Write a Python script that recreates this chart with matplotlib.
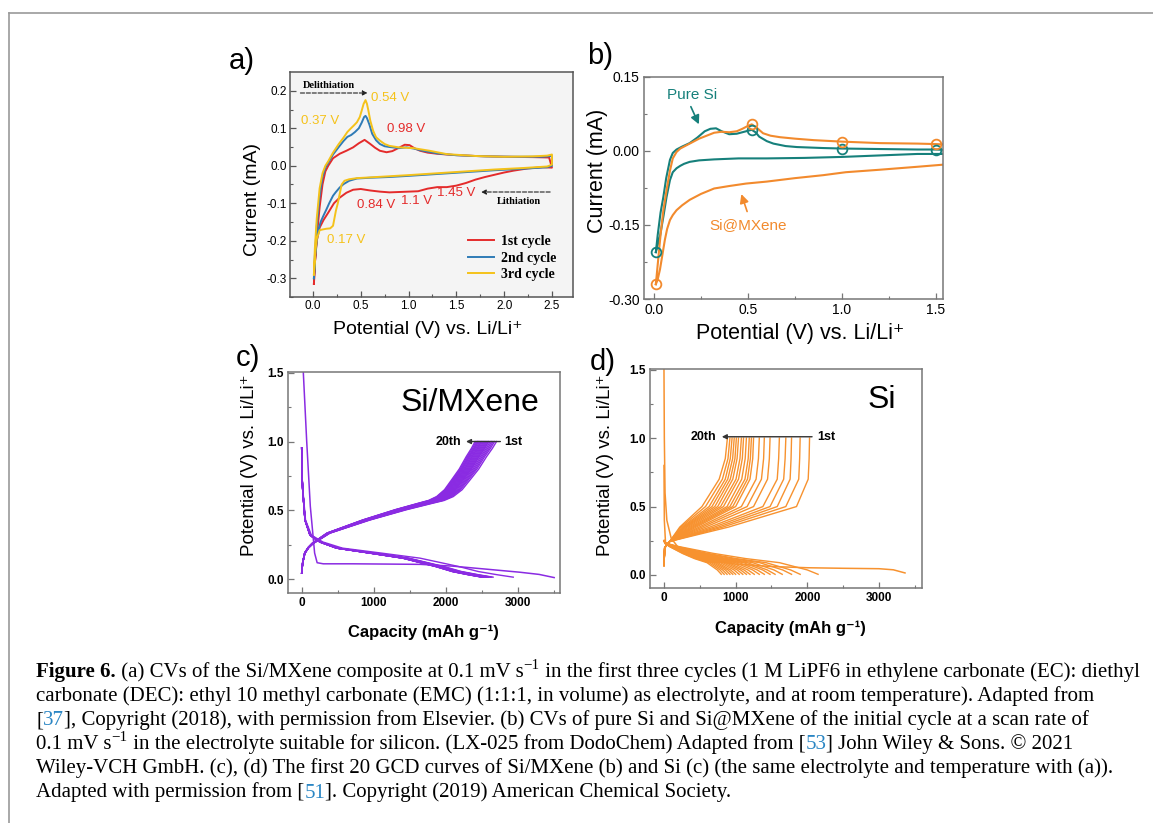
import numpy as np
import matplotlib
matplotlib.use('Agg')
import matplotlib.pyplot as plt
from matplotlib.lines import Line2D

W, H = 1153, 823
plt.rcParams['font.family'] = ['Liberation Sans', 'DejaVu Sans']
SERIF = ['Liberation Serif', 'DejaVu Serif']

# ---------------- panel a: CV of Si/MXene, three cycles ----------------
a_red_x = [0.01, 0.02, 0.04, 0.07, 0.1, 0.13, 0.16, 0.21, 0.28, 0.35, 0.42, 0.48, 0.54, 0.6, 0.65, 0.7,
           0.77, 0.83, 0.9, 0.96, 1.01, 1.06, 1.12, 1.2, 1.3, 1.45, 1.7, 2.0, 2.3, 2.47,
           2.5, 2.4, 2.25, 2.1, 2.0, 1.9, 1.8, 1.7, 1.6, 1.5, 1.4, 1.3, 1.2, 1.1, 1.0, 0.9, 0.8, 0.7,
           0.6, 0.5, 0.42, 0.35, 0.28, 0.22, 0.16, 0.11, 0.07, 0.04, 0.02, 0.01]
a_red_y = [-0.315, -0.26, -0.19, -0.11, -0.05, -0.015, 0.0, 0.02, 0.032, 0.04, 0.049, 0.06, 0.069, 0.058,
           0.048, 0.04, 0.036, 0.039, 0.048, 0.056, 0.055, 0.047, 0.04, 0.035, 0.032, 0.029, 0.026, 0.024,
           0.023, 0.022,
           -0.005, -0.004, -0.007, -0.013, -0.018, -0.024, -0.03, -0.037, -0.046, -0.053, -0.057, -0.057,
           -0.061, -0.068, -0.069, -0.07, -0.071, -0.069, -0.066, -0.062, -0.064, -0.072, -0.085, -0.1,
           -0.125, -0.145, -0.165, -0.2, -0.26, -0.315]

a_blue_x = [0.01, 0.02, 0.04, 0.07, 0.1, 0.13, 0.16, 0.21, 0.27, 0.32, 0.36, 0.4, 0.44, 0.48, 0.51, 0.535,
            0.55, 0.565, 0.59, 0.62, 0.66, 0.7, 0.75, 0.8, 0.9, 0.98, 1.05, 1.15, 1.3, 1.5, 1.8, 2.1, 2.4, 2.5,
            2.5, 2.45, 2.2, 1.9, 1.6, 1.3, 1.0, 0.8, 0.6, 0.46, 0.38, 0.32, 0.28, 0.24, 0.21, 0.17, 0.14,
            0.11, 0.08, 0.056, 0.04, 0.025, 0.01]
a_blue_y = [-0.30, -0.24, -0.16, -0.08, -0.03, -0.005, 0.008, 0.03, 0.05, 0.066, 0.077, 0.082, 0.09, 0.1,
            0.115, 0.13, 0.133, 0.127, 0.11, 0.085, 0.068, 0.058, 0.052, 0.05, 0.047, 0.049, 0.046, 0.04,
            0.033, 0.028, 0.025, 0.024, 0.024, 0.026,
            0.0, -0.004, -0.008, -0.012, -0.017, -0.022, -0.027, -0.03, -0.032, -0.034, -0.04, -0.049,
            -0.058, -0.07, -0.08, -0.1, -0.117, -0.133, -0.15, -0.173, -0.2, -0.24, -0.30]

a_yel_x = [0.01, 0.02, 0.04, 0.07, 0.1, 0.13, 0.16, 0.21, 0.27, 0.32, 0.36, 0.39, 0.43, 0.46, 0.49, 0.51,
           0.53, 0.55, 0.565, 0.58, 0.6, 0.63, 0.66, 0.7, 0.75, 0.8, 0.9, 1.05, 1.22, 1.4, 1.7, 2.0, 2.3,
           2.45, 2.5,
           2.5, 2.45, 2.2, 1.9, 1.6, 1.3, 1.0, 0.8, 0.6, 0.46, 0.38, 0.33, 0.3, 0.28, 0.26, 0.24, 0.21,
           0.18, 0.14, 0.1, 0.07, 0.04, 0.025, 0.01]
a_yel_y = [-0.29, -0.22, -0.14, -0.06, -0.02, 0.0, 0.012, 0.035, 0.058, 0.075, 0.09, 0.098, 0.108, 0.116,
           0.13, 0.147, 0.165, 0.175, 0.165, 0.147, 0.12, 0.093, 0.076, 0.067, 0.058, 0.053, 0.049, 0.047,
           0.04, 0.031, 0.026, 0.024, 0.025, 0.027, 0.03,
           0.003, -0.002, -0.006, -0.01, -0.015, -0.02, -0.025, -0.028, -0.031, -0.033, -0.036, -0.04,
           -0.05, -0.075, -0.1, -0.12, -0.16, -0.167, -0.168, -0.17, -0.172, -0.195, -0.23, -0.29]

a_labels = ['1st cycle', '2nd cycle', '3rd cycle']

# ---------------- panel b: CV of pure Si and Si@MXene ----------------
b_si_x = [0.01, 0.02, 0.035, 0.05, 0.065, 0.085, 0.1, 0.12, 0.15, 0.19, 0.23, 0.27, 0.3, 0.33, 0.36, 0.4,
          0.44, 0.48, 0.5, 0.52, 0.54, 0.56, 0.6, 0.635, 0.7, 0.76, 0.9, 1.0, 1.2, 1.4, 1.5, 1.56,
          1.56, 1.4, 1.2, 1.0, 0.8, 0.6, 0.45, 0.32, 0.24, 0.19, 0.16, 0.14, 0.12, 0.1, 0.085, 0.067,
          0.05, 0.032, 0.02, 0.01]
b_si_y = [-0.205, -0.17, -0.125, -0.093, -0.055, -0.018, -0.004, 0.003, 0.009, 0.016, 0.027, 0.04, 0.045,
          0.046, 0.04, 0.034, 0.035, 0.039, 0.041, 0.043, 0.038, 0.029, 0.02, 0.015, 0.01, 0.008, 0.006,
          0.005, 0.004, 0.003, 0.003, 0.002,
          -0.006, -0.006, -0.009, -0.012, -0.014, -0.015, -0.015, -0.017, -0.019, -0.022, -0.026, -0.03,
          -0.035, -0.043, -0.059, -0.093, -0.133, -0.173, -0.19, -0.205]
b_mx_x = [0.01, 0.02, 0.035, 0.05, 0.067, 0.085, 0.1, 0.12, 0.14, 0.17, 0.2, 0.24, 0.28, 0.32, 0.36, 0.4,
          0.44, 0.47, 0.5, 0.52, 0.55, 0.58, 0.62, 0.67, 0.75, 0.85, 1.0, 1.2, 1.4, 1.5, 1.56,
          1.56, 1.4, 1.2, 1.02, 0.9, 0.75, 0.6, 0.49, 0.4, 0.32, 0.25, 0.19, 0.15, 0.12, 0.1, 0.085, 0.07,
          0.058, 0.045, 0.032, 0.02, 0.01]
b_mx_y = [-0.27, -0.23, -0.17, -0.12, -0.079, -0.04, -0.015, -0.002, 0.005, 0.011, 0.017, 0.025, 0.031,
          0.037, 0.039, 0.038, 0.04, 0.045, 0.051, 0.054, 0.046, 0.036, 0.031, 0.028, 0.025, 0.022, 0.019,
          0.016, 0.015, 0.014, 0.013,
          -0.027, -0.032, -0.038, -0.043, -0.049, -0.055, -0.062, -0.066, -0.071, -0.076, -0.087, -0.099,
          -0.11, -0.12, -0.13, -0.14, -0.158, -0.18, -0.21, -0.24, -0.26, -0.27]
b_mark_x = [0.01, 0.52, 1.0, 1.5]
b_si_mark_y = [-0.205, 0.043, 0.005, 0.003]
b_mx_mark_y = [-0.27, 0.054, 0.019, 0.014]

# ---------------- panel c: GCD of Si/MXene, 20 cycles ----------------
c_dis1_q = [23, 70, 120, 180, 215, 300, 700, 1200, 1650, 2100, 2570, 3030, 3300, 3509]
c_dis1_v = [1.5, 1.0, 0.53, 0.19, 0.12, 0.112, 0.112, 0.11, 0.108, 0.095, 0.073, 0.051, 0.035, 0.012]
c_dis_q = [0, 5, 14, 46, 116, 255, 486, 949, 1412, 1875, 2106, 2338, 2523]
c_dis_v = [0.954, 0.75, 0.65, 0.43, 0.32, 0.27, 0.226, 0.19, 0.153, 0.092, 0.056, 0.032, 0.015]
c_dis_caps = [2940, 2660, 2640, 2620, 2600, 2590, 2580, 2570, 2560, 2550, 2545, 2540, 2535, 2530,
              2525, 2520, 2515, 2510, 2505]
c_chg_q = [0, 15, 46, 100, 162, 394, 949, 1458, 1829, 1980, 2106, 2230, 2338, 2460, 2569, 2650, 2708]
c_chg_v = [0.045, 0.12, 0.19, 0.23, 0.26, 0.335, 0.43, 0.505, 0.553, 0.572, 0.60, 0.65, 0.72, 0.80, 0.89,
           0.95, 1.0]
c_chg_caps = [2708, 2680, 2660, 2640, 2620, 2600, 2590, 2575, 2560, 2545, 2530, 2515, 2500, 2490,
              2475, 2460, 2450, 2440, 2425, 2410]

# ---------------- panel d: GCD of Si, 20 cycles ----------------
d_dis1_q = [0, 5, 15, 40, 100, 200, 400, 700, 1000, 1500, 2000, 2500, 3000, 3200, 3363]
d_dis1_v = [1.5, 1.0, 0.6, 0.4, 0.27, 0.2, 0.14, 0.1, 0.08, 0.062, 0.053, 0.049, 0.046, 0.038, 0.015]
d_spike_q = [0, 5, 20]
d_spike_v = [0.8, 0.4, 0.25]
d_dis_frac = [0, 0.02, 0.1, 0.32, 0.53, 0.75, 0.93, 1.0]
d_dis_v = [0.25, 0.23, 0.207, 0.158, 0.12, 0.09, 0.037, 0.005]
d_dis_caps = [2150, 1900, 1780, 1650, 1550, 1480, 1400, 1330, 1260, 1200, 1150, 1100, 1050, 1000,
              960, 920, 880, 840, 800]
d_chg_v = [0.07, 0.2, 0.245, 0.35, 0.5, 0.7, 0.85, 1.0]
d_chg_start_q = [0, 10, 80]
d_chg_q35 = [900, 820, 760, 700, 640, 580, 530, 490, 450, 420, 395, 370, 345, 320, 300, 285, 270, 255, 235, 220]
d_chg_q50 = [1849, 1700, 1580, 1480, 1380, 1250, 1160, 1080, 1000, 960, 920, 880, 830, 790, 750, 710, 670,
             630, 580, 530]
d_chg_q70 = [2012, 1880, 1760, 1670, 1580, 1445, 1360, 1285, 1200, 1165, 1130, 1085, 1040, 1005, 960, 925,
             890, 855, 815, 770]
d_chg_q85 = [2025, 1893, 1773, 1690, 1600, 1470, 1390, 1318, 1238, 1205, 1175, 1133, 1093, 1060, 1020, 990,
             958, 925, 893, 855]
d_chg_caps = [2031, 1900, 1780, 1700, 1610, 1480, 1400, 1330, 1250, 1220, 1190, 1150, 1110, 1080, 1040,
              1010, 980, 950, 920, 885]

RED, BLUE, YEL = '#e42b2b', '#2f7bb6', '#f4c21a'
TEAL, ORANGE = '#16807b', '#f28a2d'
PURPLE, DORANGE = '#8a2be2', '#f7922f'

fig = plt.figure(figsize=(W / 100, H / 100), dpi=100)


def box(l, t, r, b):
    return [l / W, 1 - b / H, (r - l) / W, (b - t) / H]


def fx(px):
    return px / W


def fy(py):
    return 1 - py / H


def style(ax, col):
    for s in ax.spines.values():
        s.set_color(col)
        s.set_linewidth(1.1)
    ax.tick_params(which='both', direction='in', color=col)
    ax.tick_params(which='major', length=4, width=0.9)
    ax.tick_params(which='minor', length=2, width=0.8)


# frame of the page
fig.add_artist(Line2D([fx(9), 1], [fy(13), fy(13)], color='#9a9a9a', lw=1.2))
fig.add_artist(Line2D([fx(9), fx(9)], [0, fy(13)], color='#9a9a9a', lw=1.2))

# ---- a ----
ax = fig.add_axes(box(290, 72, 573, 297))
ax.set_facecolor('#f4f4f4')
ax.plot(a_red_x, a_red_y, color=RED, lw=1.4, label=a_labels[0])
ax.plot(a_blue_x, a_blue_y, color=BLUE, lw=1.4, label=a_labels[1])
ax.plot(a_yel_x, a_yel_y, color=YEL, lw=1.4, label=a_labels[2])
ax.set_xlim(-0.24, 2.72)
ax.set_ylim(-0.35, 0.25)
ax.set_xticks([0, 0.5, 1.0, 1.5, 2.0, 2.5], ['0.0', '0.5', '1.0', '1.5', '2.0', '2.5'], fontsize=8.5)
ax.set_xticks(np.arange(0.25, 2.6, 0.5), minor=True)
ax.set_yticks([-0.3, -0.2, -0.1, 0.0, 0.1, 0.2], ['-0.3', '-0.2', '-0.1', '0.0', '0.1', '0.2'], fontsize=8.5)
ax.set_yticks(np.arange(-0.35, 0.25, 0.1), minor=True)
style(ax, '#555555')
ax.tick_params(pad=2)
ax.legend(loc='upper left', bbox_to_anchor=(0.585, 0.33), frameon=False, handlelength=1.9,
          handletextpad=0.5, labelspacing=0.25, prop={'family': SERIF, 'weight': 'bold', 'size': 10})
ax.annotate('', xy=(0.6, 0.194), xytext=(-0.16, 0.194),
            arrowprops=dict(arrowstyle='-|>', ls='--', lw=0.8, color='#222222', mutation_scale=7))
ax.text(0.17, 0.215, 'Delithiation', family=SERIF, weight='bold', fontsize=7.5, ha='center', va='center')
ax.annotate('', xy=(1.73, -0.07), xytext=(2.51, -0.07),
            arrowprops=dict(arrowstyle='-|>', ls='--', lw=0.8, color='#222222', mutation_scale=7))
ax.text(2.15, -0.094, 'Lithiation', family=SERIF, weight='bold', fontsize=7.5, ha='center', va='center')
ax.text(0.61, 0.18, '0.54 V', color=YEL, fontsize=9.5, ha='left', va='center')
ax.text(0.08, 0.12, '0.37 V', color=YEL, fontsize=9.5, ha='center', va='center')
ax.text(0.35, -0.198, '0.17 V', color=YEL, fontsize=9.5, ha='center', va='center')
ax.text(0.97, 0.098, '0.98 V', color=RED, fontsize=9.5, ha='center', va='center')
ax.text(0.66, -0.105, '0.84 V', color=RED, fontsize=9.5, ha='center', va='center')
ax.text(1.08, -0.095, '1.1 V', color=RED, fontsize=9.5, ha='center', va='center')
ax.text(1.5, -0.072, '1.45 V', color=RED, fontsize=9.5, ha='center', va='center')
fig.text(fx(253), fy(200), 'Current (mA)', rotation=90, fontsize=14, ha='center', va='center')
fig.text(fx(428), fy(330), 'Potential (V) vs. Li/Li⁺', fontsize=14, ha='center', va='center')
fig.text(fx(242), fy(61), 'a)', fontsize=21, ha='center', va='center')

# ---- b ----
ax = fig.add_axes(box(644, 77, 943, 299))
ax.plot(b_si_x, b_si_y, color=TEAL, lw=1.5)
ax.plot(b_mx_x, b_mx_y, color=ORANGE, lw=1.5)
ax.plot(b_mark_x, b_si_mark_y, 'o', mfc='none', mec=TEAL, ms=7, mew=1.3)
ax.plot(b_mark_x, b_mx_mark_y, 'o', mfc='none', mec=ORANGE, ms=7, mew=1.3)
ax.set_xlim(-0.053, 1.537)
ax.set_ylim(-0.30, 0.15)
ax.set_xticks([0, 0.5, 1.0, 1.5], ['0.0', '0.5', '1.0', '1.5'], fontsize=10)
ax.set_xticks([0.25, 0.75, 1.25], minor=True)
ax.set_yticks([-0.30, -0.15, 0.0, 0.15], ['-0.30', '-0.15', '0.00', '0.15'], fontsize=10)
ax.set_yticks([-0.225, -0.075, 0.075], minor=True)
style(ax, '#777777')
ax.tick_params(pad=3)
ax.annotate('', xy=(0.245, 0.049), xytext=(0.19, 0.095),
            arrowprops=dict(arrowstyle='-|>', lw=1.2, color=TEAL, mutation_scale=13))
ax.text(0.2, 0.113, 'Pure Si', color=TEAL, fontsize=11, ha='center', va='center')
ax.annotate('', xy=(0.46, -0.082), xytext=(0.5, -0.128),
            arrowprops=dict(arrowstyle='-|>', lw=1.2, color=ORANGE, mutation_scale=13))
ax.text(0.5, -0.15, 'Si@MXene', color=ORANGE, fontsize=11, ha='center', va='center')
fig.text(fx(598), fy(171), 'Current (mA)', rotation=90, fontsize=15.5, ha='center', va='center')
fig.text(fx(800), fy(333), 'Potential (V) vs. Li/Li⁺', fontsize=15.5, ha='center', va='center')
fig.text(fx(600), fy(56), 'b)', fontsize=21, ha='center', va='center')

# ---- c ----
ax = fig.add_axes(box(288, 372, 560, 593))
ax.plot(c_dis1_q, c_dis1_v, color=PURPLE, lw=1.1)
for cap in c_dis_caps:
    ax.plot(np.array(c_dis_q) * cap / c_dis_q[-1], c_dis_v, color=PURPLE, lw=1.0)
for cap in c_chg_caps:
    ax.plot(np.array(c_chg_q) * cap / c_chg_q[-1], c_chg_v, color=PURPLE, lw=1.0)
ax.set_xlim(-190, 3590)
ax.set_ylim(-0.1, 1.505)
ax.set_xticks([0, 1000, 2000, 3000], ['0', '1000', '2000', '3000'], fontsize=8.5, fontweight='bold')
ax.set_xticks([500, 1500, 2500, 3500], minor=True)
ax.set_yticks([0, 0.5, 1.0, 1.5], ['0.0', '0.5', '1.0', '1.5'], fontsize=8.5, fontweight='bold')
ax.set_yticks([0.25, 0.75, 1.25], minor=True)
style(ax, '#777777')
ax.tick_params(pad=3)
ax.text(2340, 1.28, 'Si/MXene', fontsize=23, ha='center', va='center')
ax.annotate('', xy=(2245, 1.0), xytext=(2800, 1.0),
            arrowprops=dict(arrowstyle='-|>', lw=1.0, color='#333333', mutation_scale=7))
ax.text(2222, 1.0, '20th', fontsize=9, fontweight='bold', ha='right', va='center')
ax.text(2810, 1.0, '1st', fontsize=9, fontweight='bold', ha='left', va='center')
fig.text(fx(250), fy(465), 'Potential (V) vs. Li/Li⁺', rotation=90, fontsize=13.5, ha='center', va='center')
fig.text(fx(423), fy(632), 'Capacity (mAh g⁻¹)', fontsize=12, fontweight='bold', ha='center', va='center')
fig.text(fx(248), fy(358), 'c)', fontsize=21, ha='center', va='center')

# ---- d ----
ax = fig.add_axes(box(650, 369, 922, 588))
ax.plot(d_dis1_q, d_dis1_v, color=DORANGE, lw=1.1)
ax.plot(d_spike_q, d_spike_v, color=DORANGE, lw=1.1)
for cap in d_dis_caps:
    ax.plot(np.array(d_dis_frac) * cap, d_dis_v, color=DORANGE, lw=1.0)
for i, cap in enumerate(d_chg_caps):
    q = d_chg_start_q + [d_chg_q35[i], d_chg_q50[i], d_chg_q70[i], d_chg_q85[i], cap]
    ax.plot(q, d_chg_v, color=DORANGE, lw=1.0)
ax.set_xlim(-195, 3600)
ax.set_ylim(-0.095, 1.505)
ax.set_xticks([0, 1000, 2000, 3000], ['0', '1000', '2000', '3000'], fontsize=8.5, fontweight='bold')
ax.set_xticks([500, 1500, 2500, 3500], minor=True)
ax.set_yticks([0, 0.5, 1.0, 1.5], ['0.0', '0.5', '1.0', '1.5'], fontsize=8.5, fontweight='bold')
ax.set_yticks([0.25, 0.75, 1.25], minor=True)
style(ax, '#777777')
ax.tick_params(pad=3)
ax.text(3040, 1.28, 'Si', fontsize=23, ha='center', va='center')
ax.annotate('', xy=(768, 1.01), xytext=(2105, 1.01),
            arrowprops=dict(arrowstyle='-|>', lw=1.0, color='#333333', mutation_scale=7))
ax.text(731, 1.01, '20th', fontsize=9, fontweight='bold', ha='right', va='center')
ax.text(2138, 1.01, '1st', fontsize=9, fontweight='bold', ha='left', va='center')
fig.text(fx(606), fy(465), 'Potential (V) vs. Li/Li⁺', rotation=90, fontsize=13.5, ha='center', va='center')
fig.text(fx(790), fy(628), 'Capacity (mAh g⁻¹)', fontsize=12, fontweight='bold', ha='center', va='center')
fig.text(fx(603), fy(362), 'd)', fontsize=21, ha='center', va='center')

# ---------------- caption ----------------
# each piece: text, style; 'sup' pieces are drawn smaller and raised
LINK = '#2a86c4'
SUP = {'sup': True}
caption = [
    [('Figure 6.', {'weight': 'bold'}),
     (' (a) CVs of the Si/MXene composite at 0.1 mV s', {}), ('\u22121', SUP),
     (' in the first three cycles (1 M LiPF6 in ethylene carbonate (EC): diethyl', {})],
    [('carbonate (DEC): ethyl 10 methyl carbonate (EMC) (1:1:1, in volume) as electrolyte, and at room '
      'temperature). Adapted from', {})],
    [('[', {}), ('37', {'color': LINK}),
     ('], Copyright (2018), with permission from Elsevier. (b) CVs of pure Si and Si@MXene of the initial '
      'cycle at a scan rate of', {})],
    [('0.1 mV s', {}), ('\u22121', SUP),
     (' in the electrolyte suitable for silicon. (LX-025 from DodoChem) Adapted from [', {}),
     ('53', {'color': LINK}), ('] John Wiley & Sons. © 2021', {})],
    [('Wiley-VCH GmbH. (c), (d) The first 20 GCD curves of Si/MXene (b) and Si (c) (the same electrolyte and '
      'temperature with (a)).', {})],
    [('Adapted with permission from [', {}), ('51', {'color': LINK}),
     (']. Copyright (2019) American Chemical Society.', {})],
]
renderer = fig.canvas.get_renderer()


def text_width(s, size, **kw):
    t1 = fig.text(0, 0, 'x' + s + 'x', fontsize=size, family=SERIF, **kw)
    t2 = fig.text(0, 0, 'xx', fontsize=size, family=SERIF, **kw)
    w = t1.get_window_extent(renderer).width - t2.get_window_extent(renderer).width
    t1.remove()
    t2.remove()
    return w


def piece_size(kw, size):
    return size * 0.72 if kw.get('sup') else size


def clean(kw):
    return {k: v for k, v in kw.items() if k != 'sup'}


base = 12.0
w1 = sum(text_width(s, piece_size(kw, base), **clean(kw)) for s, kw in caption[0])
size = base * (1137 - 36) / w1
for i, line in enumerate(caption):
    x = 36
    y = 677 + i * 24.1
    for s, kw in line:
        fs = piece_size(kw, size)
        rise = size * 0.55 if kw.get('sup') else 0
        fig.text(fx(x), fy(y - rise), s, fontsize=fs, family=SERIF, ha='left', va='baseline', **clean(kw))
        x += text_width(s, fs, **clean(kw))

fig.savefig('out.png', dpi=100)
